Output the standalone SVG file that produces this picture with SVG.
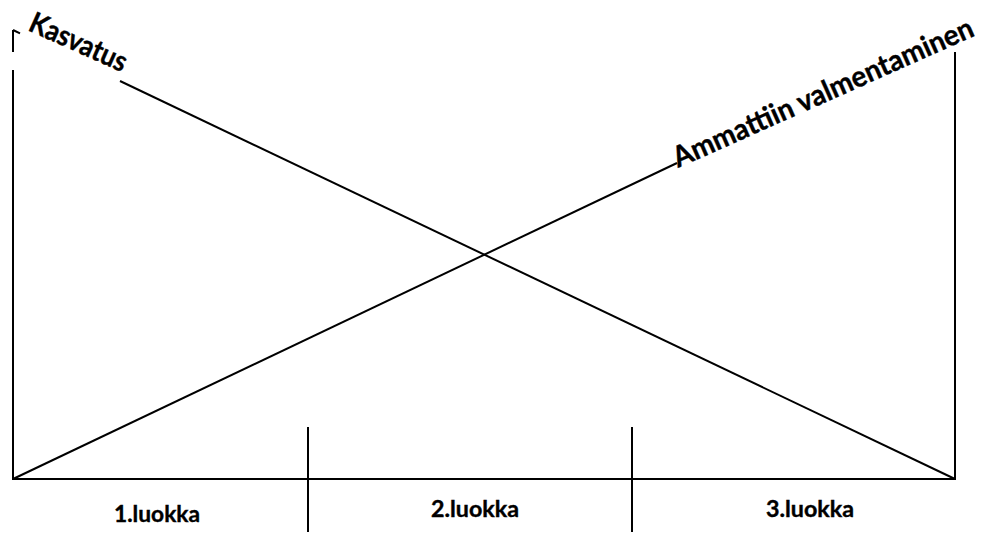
<svg xmlns="http://www.w3.org/2000/svg" width="992" height="533" viewBox="0 0 992 533">
<style>
.ln{stroke:#000;stroke-width:2;fill:none;stroke-linecap:butt}
.t{font-family:Lato,"Open Sans","Liberation Sans",sans-serif;font-weight:700;fill:#000;stroke:#000;stroke-width:0.4}
.big{font-size:29px}
.lab{font-size:23px}
</style>
<rect width="992" height="533" fill="#fff"/>
<g id="connectors">
<line class="ln" x1="13" y1="30" x2="13" y2="52"/>
<line class="ln" x1="13" y1="70" x2="13" y2="480"/>
<line class="ln" x1="13" y1="30" x2="20" y2="33.3"/>
<line class="ln" x1="120" y1="81" x2="955" y2="479"/>
<line class="ln" x1="13" y1="479" x2="677" y2="163"/>
<line class="ln" x1="955" y1="52" x2="955" y2="480"/>
<line class="ln" x1="12" y1="479" x2="956" y2="479"/>
<line class="ln" x1="308" y1="427" x2="308" y2="532"/>
<line class="ln" x1="632" y1="427" x2="632" y2="532"/>
</g>
<g id="kasvatus">
<text class="t big" transform="translate(27,30) rotate(24)" textLength="104" lengthAdjust="spacingAndGlyphs">Kasvatus</text>
</g>
<g id="ammattiin">
<text class="t big" transform="translate(678,168) rotate(-24)" textLength="326" lengthAdjust="spacingAndGlyphs">Ammattiin valmentaminen</text>
</g>
<g id="luokka1">
<text class="t lab" x="157" y="522" text-anchor="middle" textLength="86" lengthAdjust="spacingAndGlyphs">1.luokka</text>
</g>
<g id="luokka2">
<text class="t lab" x="475" y="517" text-anchor="middle" textLength="88" lengthAdjust="spacingAndGlyphs">2.luokka</text>
</g>
<g id="luokka3">
<text class="t lab" x="810" y="517" text-anchor="middle" textLength="88" lengthAdjust="spacingAndGlyphs">3.luokka</text>
</g>
</svg>
